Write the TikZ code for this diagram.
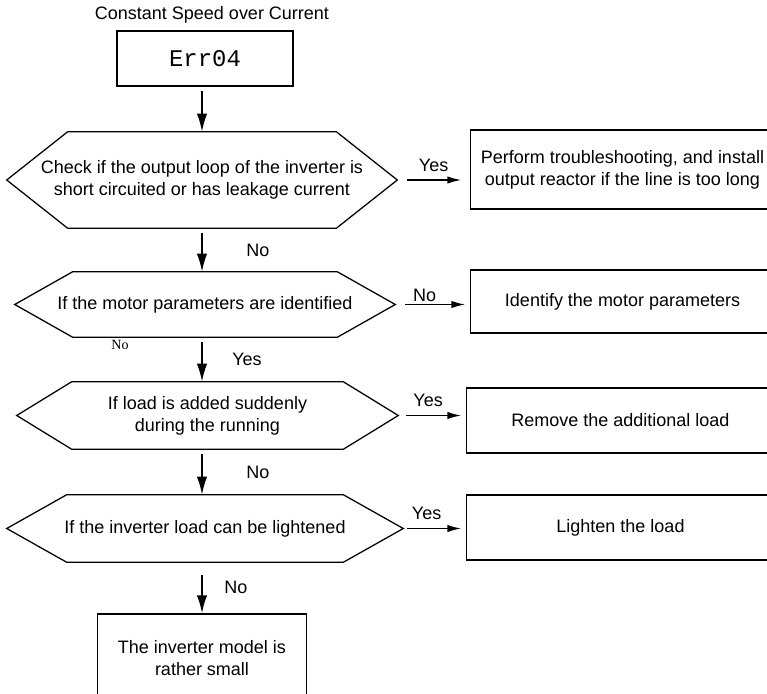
\documentclass[tikz,border=0pt]{standalone}
\usepackage{fontspec}
\setmainfont{Liberation Sans}
\newfontfamily\errfont{Liberation Mono}
\newfontfamily\serifnote{Liberation Serif}
\usepackage{tikz}
\usetikzlibrary{arrows.meta,positioning}

\begin{document}
\begin{tikzpicture}[
  step box/.style={
    draw,
    rectangle,
    align=center,
    line width=0.9pt
  },
  % decision node: outline drawn as a hexagon, #1 = depth of the side points
  check/.style={
    rectangle,
    align=center,
    inner sep=0pt,
    append after command={
      \pgfextra{
        \draw[line width=0.9pt]
          (\tikzlastnode.west) -- ([xshift=#1]\tikzlastnode.north west)
          -- ([xshift=-#1]\tikzlastnode.north east) -- (\tikzlastnode.east)
          -- ([xshift=-#1]\tikzlastnode.south east)
          -- ([xshift=#1]\tikzlastnode.south west) -- cycle;
      }
    }
  },
  arrow/.style={-{Latex[length=4.5mm,width=2.6mm]}, line width=1.3pt, shorten <=1.2mm},
  harrow/.style={-{Latex[length=3.6mm,width=1.8mm]}, line width=1.4pt},
  lbl/.style={inner sep=1pt},
  font=\fontsize{12.8}{15.6}\selectfont
]
\useasboundingbox (0,0) rectangle (19.175,-17.325);
\clip (0,0) rectangle (19.175,-17.325);

\node (title) at (5.3,-0.375) {Constant Speed over Current};
\node[step box, minimum width=4.4cm, minimum height=1.375cm] (err) at (5.125,-1.4625)
  {\errfont\fontsize{17}{20}\selectfont Err04};

\node[check=1.525cm, minimum width=9.75cm, minimum height=2.4cm] (short) at (5.05,-4.5)
  {Check if the output loop of the inverter is\\short circuited or has leakage current};
\node[check=1.45cm, minimum width=9.5cm, minimum height=1.625cm] (ident) at (5.125,-7.6125)
  {If the motor parameters are identified};
\node[check=1.375cm, minimum width=9.525cm, minimum height=1.675cm] (sudden) at (5.1875,-10.3875)
  {If load is added suddenly\\during the running};
\node[check=1.5cm, minimum width=9.9cm, minimum height=1.675cm] (lighten) at (5.125,-13.2125)
  {If the inverter load can be lightened};
\node[step box, minimum width=5.225cm, minimum height=2.225cm] (small) at (5.05,-16.4625)
  {The inverter model is\\rather small};

\node[step box, minimum width=7.6cm, minimum height=1.975cm] (reactor) at (15.5625,-4.2375)
  {Perform troubleshooting, and install\\output reactor if the line is too long};
\node[step box, minimum width=7.6cm, minimum height=1.575cm] (motor) at (15.5625,-7.5375)
  {Identify the motor parameters};
\node[step box, minimum width=7.7cm, minimum height=1.625cm] (remove) at (15.5125,-10.5125)
  {Remove the additional load};
\node[step box, minimum width=7.7cm, minimum height=1.625cm] (lightload) at (15.5125,-13.1875)
  {Lighten the load};

\node[font=\serifnote\fontsize{10}{12}\selectfont] (stray) at (3.0,-8.625) {No};

% main line down the left
\draw[arrow] (err.south -| short.north) -- (short.north);
\draw[arrow] (short.south) -- node[lbl,right=1.05cm]{No} (short.south |- ident.north);
\draw[arrow] (short.south |- ident.south) -- node[lbl,right=0.7cm]{Yes} (short.south |- sudden.north);
\draw[arrow] (short.south |- sudden.south) -- node[lbl,right=1.05cm]{No} (short.south |- lighten.north);
\draw[arrow, shorten <=3.2mm] (short.south |- lighten.south) -- node[lbl,right=0.5cm]{No} (small.north);

% branches to the right
\draw[harrow, shorten <=2.5mm, shorten >=2mm] (short.east) --
  node[lbl,above=1.5mm]{Yes} (short.east -| reactor.west);
\draw[harrow, shorten <=2.5mm, shorten >=1mm] (ident.east) --
  node[lbl,above,xshift=-2mm]{No} (ident.east -| motor.west);
\draw[harrow, shorten <=2mm, shorten >=1mm] (sudden.east) --
  node[lbl,above=1.5mm,xshift=-1mm]{Yes} (sudden.east -| remove.west);
\draw[harrow, shorten <=1mm, shorten >=1mm] (lighten.east) --
  node[lbl,above=1.5mm,xshift=-2mm]{Yes} (lighten.east -| lightload.west);
\end{tikzpicture}
\end{document}
